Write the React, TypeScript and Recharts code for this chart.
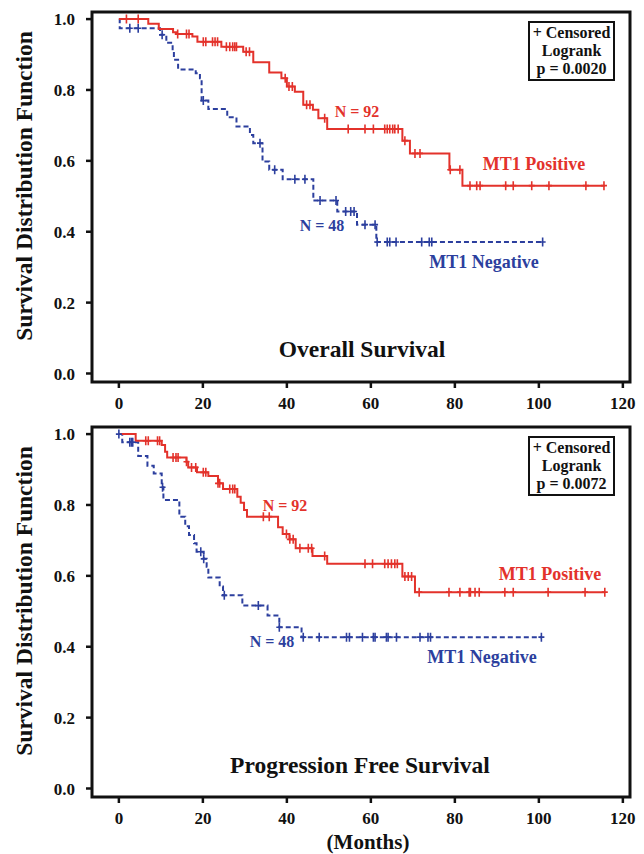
import { ComposedChart, Line, Scatter, XAxis, YAxis, ReferenceArea } from "recharts"

const RED = "#e3322b"
const BLUE = "#2c3f9e"
const FONT = "'Liberation Serif', 'Times New Roman', serif"

const xTicks = [0, 20, 40, 60, 80, 100, 120]
const yTicks = [0, 0.2, 0.4, 0.6, 0.8, 1.0]
const X_MIN = -6.4
const X_MAX = 121.7
const Y_MIN = -0.024
const Y_MAX = 1.02

// Overall survival, MT1 positive (N = 92)
const osPosT = [0, 7.0, 9.5, 12.9, 13.6, 17.5, 18.7, 24.4, 29.6, 32.0, 35.8, 38.7, 40.0, 41.9, 43.9, 46.2, 47.5, 49.6, 67.5, 69.3, 78.7, 81.8, 115.7]
const osPosS = [1.0, 0.987, 0.972, 0.963, 0.958, 0.951, 0.936, 0.922, 0.908, 0.878, 0.849, 0.833, 0.81, 0.795, 0.758, 0.744, 0.72, 0.69, 0.657, 0.621, 0.575, 0.53, 0.53]
const osPosCensT = [1.8, 4.6, 14.0, 16.1, 16.7, 20.1, 20.7, 22.3, 22.9, 23.5, 25.6, 26.4, 27.1, 27.6, 28.0, 30.3, 31.1, 39.6, 40.5, 41.3, 44.7, 45.5, 49.0, 54.6, 58.6, 60.6, 63.3, 63.9, 64.5, 65.2, 65.7, 66.5, 68.1, 70.5, 71.7, 78.9, 81.2, 83.6, 85.2, 86.0, 92.1, 93.9, 98.3, 102.4, 111.2, 115.5]
const osPosCensS = [1.0, 1.0, 0.958, 0.958, 0.958, 0.936, 0.936, 0.936, 0.936, 0.936, 0.922, 0.922, 0.922, 0.922, 0.922, 0.908, 0.908, 0.833, 0.81, 0.81, 0.758, 0.758, 0.72, 0.69, 0.69, 0.69, 0.69, 0.69, 0.69, 0.69, 0.69, 0.69, 0.657, 0.621, 0.621, 0.575, 0.575, 0.53, 0.53, 0.53, 0.53, 0.53, 0.53, 0.53, 0.53, 0.53]

// Overall survival, MT1 negative (N = 48)
const osNegT = [0, 0.2, 9.8, 11.3, 12.8, 13.1, 14.1, 18.3, 19.3, 19.7, 21.3, 25.8, 28.0, 31.2, 32.0, 34.2, 35.8, 39.0, 46.3, 52.0, 56.7, 61.3, 100.9]
const osNegS = [1.0, 0.974, 0.956, 0.933, 0.908, 0.885, 0.858, 0.847, 0.833, 0.77, 0.746, 0.723, 0.697, 0.673, 0.65, 0.598, 0.575, 0.548, 0.488, 0.457, 0.42, 0.371, 0.371]
const osNegCensT = [2.6, 4.6, 10.3, 20.1, 33.6, 37.1, 41.9, 44.3, 47.9, 51.7, 54.0, 55.2, 56.0, 58.6, 61.0, 61.5, 63.9, 64.5, 66.0, 72.1, 73.9, 74.5, 100.9]
const osNegCensS = [0.974, 0.974, 0.956, 0.77, 0.65, 0.575, 0.548, 0.548, 0.488, 0.488, 0.457, 0.457, 0.457, 0.42, 0.42, 0.371, 0.371, 0.371, 0.371, 0.371, 0.371, 0.371, 0.371]

// Progression free survival, MT1 positive (N = 92)
const pfsPosT = [0, 4.0, 10.2, 11.0, 11.5, 16.1, 16.5, 18.6, 21.3, 23.6, 24.8, 28.2, 29.0, 29.8, 30.5, 37.9, 39.0, 40.6, 42.1, 46.1, 49.6, 67.5, 70.5, 115.7]
const pfsPosS = [1.0, 0.981, 0.969, 0.95, 0.934, 0.922, 0.906, 0.892, 0.882, 0.861, 0.845, 0.823, 0.806, 0.786, 0.767, 0.737, 0.718, 0.703, 0.678, 0.656, 0.634, 0.598, 0.554, 0.554]
const pfsPosCensT = [6.4, 7.0, 9.2, 9.7, 12.9, 13.6, 14.1, 16.1, 17.3, 18.3, 20.1, 20.7, 23.6, 24.0, 26.4, 27.1, 27.6, 34.4, 35.8, 39.9, 40.7, 41.5, 43.1, 45.1, 45.9, 49.0, 58.6, 60.4, 63.3, 64.1, 64.9, 65.7, 66.3, 68.1, 68.9, 69.7, 71.5, 78.6, 81.2, 83.4, 83.7, 84.8, 85.8, 91.9, 93.9, 102.2, 111.0, 115.7]
const pfsPosCensS = [0.981, 0.981, 0.981, 0.981, 0.934, 0.934, 0.934, 0.922, 0.906, 0.906, 0.892, 0.892, 0.861, 0.861, 0.845, 0.845, 0.845, 0.767, 0.767, 0.718, 0.703, 0.703, 0.678, 0.678, 0.678, 0.656, 0.634, 0.634, 0.634, 0.634, 0.634, 0.634, 0.634, 0.598, 0.598, 0.598, 0.554, 0.554, 0.554, 0.554, 0.554, 0.554, 0.554, 0.554, 0.554, 0.554, 0.554, 0.554]

// Progression free survival, MT1 negative (N = 48)
const pfsNegT = [0, 0.8, 4.6, 6.8, 8.3, 10.2, 10.6, 14.4, 15.8, 16.7, 17.9, 18.5, 20.2, 20.9, 21.3, 24.0, 24.8, 29.4, 35.4, 38.2, 43.5, 100.6]
const pfsNegS = [1.0, 0.977, 0.938, 0.911, 0.889, 0.85, 0.814, 0.767, 0.74, 0.715, 0.692, 0.668, 0.648, 0.626, 0.595, 0.57, 0.545, 0.516, 0.488, 0.455, 0.427, 0.427]
const pfsNegCensT = [0, 2.6, 3.0, 3.3, 10.4, 19.5, 20.2, 25.1, 33.2, 38.2, 43.9, 47.7, 54.2, 54.9, 58.0, 60.6, 61.0, 63.7, 64.1, 66.1, 71.7, 73.6, 74.2, 100.6]
const pfsNegCensS = [1.0, 0.977, 0.977, 0.977, 0.85, 0.668, 0.648, 0.545, 0.516, 0.455, 0.427, 0.427, 0.427, 0.427, 0.427, 0.427, 0.427, 0.427, 0.427, 0.427, 0.427, 0.427, 0.427, 0.427]

type Pt = { t: number; s: number }
const zip = (t: number[], s: number[]): Pt[] => t.map((v, i) => ({ t: v, s: s[i] }))

const censorMark = (color: string) => (props: any) => {
  const { cx, cy } = props
  return (
    <path
      d={`M${cx},${cy - 4.5}V${cy + 4.5}M${cx - 3},${cy}H${cx + 3}`}
      stroke={color}
      strokeWidth={1.6}
      fill="none"
    />
  )
}

const tickStyle = { fill: "#111", fontSize: 17, fontWeight: 700, fontFamily: FONT }

function Panel({
  top,
  height,
  axisHeight,
  pos,
  neg,
  posCens,
  negCens,
}: {
  top: number
  height: number
  axisHeight: number
  pos: Pt[]
  neg: Pt[]
  posCens: Pt[]
  negCens: Pt[]
}) {
  return (
    <div style={{ position: "absolute", left: 0, top }}>
      <ComposedChart width={644} height={height} margin={{ top: 12, right: 14, bottom: 0, left: 0 }}>
        <XAxis
          type="number"
          dataKey="t"
          domain={[X_MIN, X_MAX]}
          allowDataOverflow
          ticks={xTicks}
          interval={0}
          height={axisHeight}
          axisLine={false}
          tickLine={{ stroke: "#111", strokeWidth: 2.5 }}
          tickSize={6}
          tickMargin={9}
          tick={tickStyle}
        />
        <YAxis
          type="number"
          dataKey="s"
          domain={[Y_MIN, Y_MAX]}
          allowDataOverflow
          ticks={yTicks}
          interval={0}
          width={92}
          axisLine={false}
          tickLine={{ stroke: "#111", strokeWidth: 2.5 }}
          tickSize={6}
          tickMargin={11}
          tickFormatter={(v: number) => v.toFixed(1)}
          tick={tickStyle}
        />
        <Line
          data={neg}
          dataKey="s"
          type="stepAfter"
          stroke={BLUE}
          strokeWidth={2}
          strokeDasharray="5 3"
          dot={false}
          activeDot={false}
          isAnimationActive={false}
        />
        <Scatter data={negCens} shape={censorMark(BLUE)} isAnimationActive={false} />
        <Line
          data={pos}
          dataKey="s"
          type="stepAfter"
          stroke={RED}
          strokeWidth={2}
          dot={false}
          activeDot={false}
          isAnimationActive={false}
        />
        <Scatter data={posCens} shape={censorMark(RED)} isAnimationActive={false} />
        <ReferenceArea
          x1={X_MIN}
          x2={X_MAX}
          y1={Y_MIN}
          y2={Y_MAX}
          fill="none"
          stroke="#111"
          strokeWidth={3}
          ifOverflow="visible"
        />
      </ComposedChart>
    </div>
  )
}

const Txt = ({ x, y, size, color = "#111", children }: { x: number; y: number; size: number; color?: string; children: any }) => (
  <div
    style={{
      position: "absolute",
      left: x,
      top: y,
      transform: "translate(-50%, -50%)",
      whiteSpace: "nowrap",
      fontFamily: FONT,
      fontWeight: 700,
      fontSize: size,
      lineHeight: 1,
      color,
    }}
  >
    {children}
  </div>
)

const YLabel = ({ y }: { y: number }) => (
  <div
    style={{
      position: "absolute",
      left: 25,
      top: y,
      transform: "translate(-50%, -50%) rotate(-90deg)",
      whiteSpace: "nowrap",
      fontFamily: FONT,
      fontWeight: 700,
      fontSize: 23.5,
      lineHeight: 1,
      color: "#111",
    }}
  >
    Survival Distribution Function
  </div>
)

const LegendBox = ({ top, p }: { top: number; p: string }) => (
  <div
    style={{
      position: "absolute",
      left: 528,
      top,
      width: 83,
      height: 55,
      border: "2px solid #111",
      fontFamily: FONT,
      fontWeight: 700,
      fontSize: 16,
      lineHeight: "18px",
      textAlign: "center",
      color: "#111",
      paddingTop: 1,
    }}
  >
    <div>+ Censored</div>
    <div>Logrank</div>
    <div>p = {p}</div>
  </div>
)

export default function App() {
  return (
    <div style={{ position: "fixed", left: 0, top: 0, width: 644, height: 854, background: "#fff", overflow: "hidden" }}>
      <style>{`html, body { margin: 0; overflow: hidden; }`}</style>
      <Panel
        top={0}
        height={420}
        axisHeight={38}
        pos={zip(osPosT, osPosS)}
        neg={zip(osNegT, osNegS)}
        posCens={zip(osPosCensT, osPosCensS)}
        negCens={zip(osNegCensT, osNegCensS)}
      />
      <Panel
        top={415}
        height={439}
        axisHeight={57}
        pos={zip(pfsPosT, pfsPosS)}
        neg={zip(pfsNegT, pfsNegS)}
        posCens={zip(pfsPosCensT, pfsPosCensS)}
        negCens={zip(pfsNegCensT, pfsNegCensS)}
      />
      <YLabel y={186} />
      <YLabel y={601} />
      <LegendBox top={21} p="0.0020" />
      <LegendBox top={436} p="0.0072" />
      <Txt x={357} y={112} size={16} color={RED}>N = 92</Txt>
      <Txt x={534} y={164} size={18} color={RED}>MT1 Positive</Txt>
      <Txt x={322} y={226} size={16} color={BLUE}>N = 48</Txt>
      <Txt x={484} y={262} size={18} color={BLUE}>MT1 Negative</Txt>
      <Txt x={362} y={350} size={23.5}>Overall Survival</Txt>
      <Txt x={285} y={506} size={16} color={RED}>N = 92</Txt>
      <Txt x={550} y={574} size={18} color={RED}>MT1 Positive</Txt>
      <Txt x={272} y={642} size={16} color={BLUE}>N = 48</Txt>
      <Txt x={482} y={657} size={18} color={BLUE}>MT1 Negative</Txt>
      <Txt x={360} y={766} size={23.5}>Progression Free Survival</Txt>
      <Txt x={368} y={842} size={21}>(Months)</Txt>
    </div>
  )
}
